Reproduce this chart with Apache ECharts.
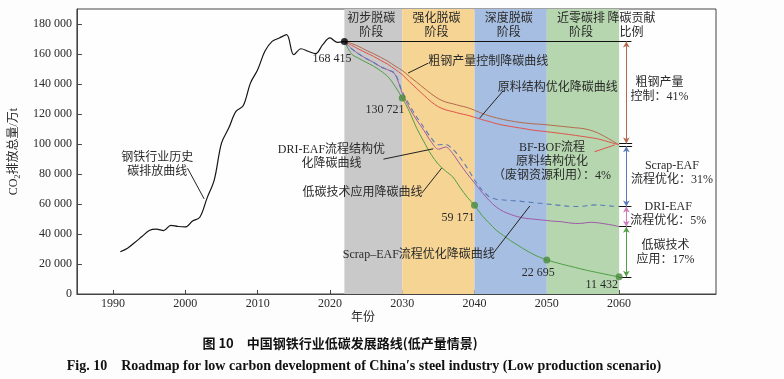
<!DOCTYPE html>
<html><head><meta charset="utf-8">
<script src="https://cdn.jsdelivr.net/npm/echarts@6/dist/echarts.min.js"></script>
<style>html,body{margin:0;padding:0;background:#fdfdfd}#c{width:784px;height:379px}</style>
</head><body><div id="c"></div>
<script>
// ---------- data ----------
const histYears  = [1991,1992,1993,1994,1995,1996,1997,1998,1999,2000,2001,2002,2003,2004,2005,2006,2007,2008,2009,2010,2011,2012,2013,2014,2015,2016,2017,2018,2019,2020,2021,2022];
const histValues = [28200,30500,34300,38300,42300,43200,42300,45800,45000,44700,48700,51200,63900,76100,100600,110600,121700,125500,140600,149500,161800,168400,170700,172900,159500,163500,161800,160200,166200,170700,167800,168415];

const projYears = [2022,2023,2024,2025,2026,2027,2028,2029,2030,2031,2032,2033,2034,2035,2036,2037,2038,2039,2040,2041,2042,2043,2044,2045,2046,2047,2048,2049,2050,2051,2052,2053,2054,2055,2056,2057,2058,2059,2060];
// 粗钢产量控制降碳曲线
const cutValues   = [168415,167000,165000,162500,160300,157800,155200,152000,149000,145000,141200,137300,133500,130200,128000,126800,125500,124300,122500,120500,118800,117500,116300,115400,114600,114000,113500,113200,112800,112300,111800,111300,110800,110300,109200,107500,105000,102300,99400];
// 原料结构优化降碳曲线
const rawValues   = [168415,165800,163200,160800,158500,155800,153200,149800,146300,141500,137000,132500,128200,124800,122800,121600,120300,119200,117800,116300,115000,113600,112500,111700,110900,110100,109300,108700,108200,107600,107000,106400,105700,105000,104300,103500,102200,100800,99400];
// Scrap-EAF流程优化降碳曲线 (dashed)
const scrapValues = [168415,163500,160000,157000,154500,151500,149500,147000,135000,126000,118000,111000,104000,99500,99800,96500,91000,84000,76000,69500,65000,63200,62700,62300,62000,61500,61000,60500,60000,59500,59000,58500,58300,58500,59200,59400,59000,58600,58300];
// DRI-EAF流程结构优化降碳曲线
const driValues   = [168415,163500,160000,157000,154500,151500,149500,146500,134000,124000,116000,109000,101500,96500,98000,93500,86500,80000,74000,68000,62500,58000,55000,53000,51500,50500,50000,49500,49000,48500,48200,47500,47000,47200,47800,47500,46800,46000,44900];
// 低碳技术应用降碳曲线
const lowcValues  = [168415,160000,157000,154500,152000,148800,145000,138500,130721,121500,110500,101500,93000,86500,82000,78000,71000,64500,59171,52500,47500,42500,39000,35500,32500,29500,26800,24500,22695,21300,20000,18800,17600,16400,15300,14300,13300,12300,11432];

const milestoneYears  = [2030,2040,2050,2060];
const milestoneValues = [130721,59171,22695,11432];

const xTicks = [1990,2000,2010,2020,2030,2040,2050,2060];
const yTicks = [0,20000,40000,60000,80000,100000,120000,140000,160000,180000];

const stageNames  = ['初步脱碳\n阶段','强化脱碳\n阶段','深度脱碳\n阶段','近零碳排\n阶段'];
const stageStarts = [2022,2030,2040,2050];
const stageEnds   = [2030,2040,2050,2060];
const stageColors = ['#c9c9c9','#f6d493','#a6bee1','#b5d6ae'];

const shareTexts = ['粗钢产量\n控制：41%','Scrap-EAF\n流程优化：31%','DRI-EAF\n流程优化：5%','低碳技术\n应用：17%'];

// ---------- style / layout ----------
const SERIF = "'Liberation Serif','Noto Sans CJK SC',serif";
const TXT = '#2a2a2a';
const C = {hist:'#151515', cut:'#b36a4c', raw:'#e0534b', dri:'#a05aa8', scrap:'#5a7ab6', lowc:'#4f9e45', dot:'#4a8a3c'};

const zip = (xs, ys) => xs.map((x, i) => [x, ys[i]]);
const last = a => a[a.length - 1];

const top0 = last(histValues), cutEnd = last(cutValues), scrapEnd = last(scrapValues), driEnd = last(driValues), lowEnd = last(lowcValues);

// annotation text anchors (data coordinates)
const annotations = [
  ['168 415',[2020.3,156600]],
  ['130 721',[2027.6,122800]],
  ['59 171',[2037.7,50500]],
  ['22 695',[2048.8,13800]],
  ['11 432',[2057.6,6000]],
  ['钢铁行业历史\n碳排放曲线',[1996.1,86400]],
  ['DRI-EAF流程结构优\n化降碳曲线',[2020.2,91400]],
  ['低碳技术应用降碳曲线',[2024.5,67400]],
  ['Scrap–EAF流程优化降碳曲线',[2032.3,26000]],
  ['原料结构优化降碳曲线',[2051.5,137300]],
  ['粗钢产量控制降碳曲线',[2041.9,155000]],
  ['BF-BOF流程\n原料结构优化\n（废钢资源利用）：4%',[2050.7,88100]],
  ['降碳贡献\n比例',[2061.7,178600]],
  [shareTexts[0],[2065.6,136100]],
  [shareTexts[1],[2067.3,80700]],
  [shareTexts[2],[2066.8,53400]],
  [shareTexts[3],[2066.4,27200]]
];

// leader lines (data coordinates)
const leaders = [
  [[2000.3,83900],[2002.6,63400],'#222'],
  [[2033.6,153900],[2030.8,147300],'#222'],
  [[2044.0,135700],[2040.7,117200],'#222'],
  [[2027.4,89900],[2034.3,96800],'#222'],
  [[2032.7,67200],[2035.45,83900],'#222'],
  [[2042.6,27200],[2047.65,58700],'#222'],
  [[2056.6,94800],[2059.4,99400],C.raw]
];

const BX = 2061, TX0 = 2060, TX1 = 2061.7;
const plain = (a, b, color) => [{coord:a, lineStyle:{color, width:1, type:'solid'}}, {coord:b}];
const arrow = (a, b, color) => [{coord:a, symbol:'arrow', symbolSize:[5,6], lineStyle:{color, width:1, type:'solid'}, itemStyle:{color}}, {coord:b, symbol:'arrow', symbolSize:[5,6], itemStyle:{color}}];

const markLines = [
  plain([2022, top0],[TX1, top0],'#111'),
  plain([TX0, cutEnd+900],[TX1+0.1, cutEnd+900],'#111'),
  plain([TX0, cutEnd-900],[TX1+0.1, cutEnd-900],'#111'),
  plain([TX0, scrapEnd],[TX1, scrapEnd],'#111'),
  plain([TX0, driEnd],[TX1, driEnd],'#111'),
  plain([TX0, lowEnd],[TX1, lowEnd],'#111'),
  arrow([BX, top0],[BX, cutEnd+900], C.cut),
  arrow([BX, cutEnd-900],[BX, scrapEnd], C.scrap),
  arrow([BX, scrapEnd],[BX, driEnd], '#c97dbb'),
  arrow([BX, driEnd],[BX, lowEnd], C.lowc)
].concat(leaders.map(l => plain(l[0], l[1], l[2])));

const chart = echarts.init(document.getElementById('c'), null, {renderer:'canvas'});

const lineSeries = (name, ys, color, extra) => Object.assign({
  type:'line', name, data: zip(projYears, ys), symbol:'none', smooth:0.3, z:3,
  lineStyle:{color, width:1}, silent:true
}, extra || {});

chart.setOption({
  animation:false,
  backgroundColor:'#fdfdfd',
  textStyle:{fontFamily:SERIF},
  grid:{left:76, right:68, top:9, bottom:85, show:true, borderColor:'#444', borderWidth:1, backgroundColor:'#fefefe'},
  xAxis:{
    type:'value', min:1985, max:2073.4,
    axisLine:{lineStyle:{color:'#444', width:1}},
    axisTick:{inside:true, length:4, lineStyle:{color:'#444'}, customValues:xTicks},
    axisLabel:{customValues:xTicks, color:TXT, fontSize:12, fontFamily:SERIF, margin:4, formatter: v => String(v)},
    splitLine:{show:false}
  },
  yAxis:{
    type:'value', min:0, max:190000,
    name:'{a|CO}{s|2}{a|排放总量/万t}', nameLocation:'middle', nameRotate:90, nameGap:52,
    nameTextStyle:{rich:{a:{fontSize:12, color:TXT, fontFamily:SERIF, lineHeight:16}, s:{fontSize:8, color:TXT, fontFamily:SERIF, lineHeight:16, verticalAlign:'bottom'}}},
    axisLine:{show:true, lineStyle:{color:'#444', width:1}},
    axisTick:{show:true, inside:true, length:5, lineStyle:{color:'#444'}, customValues:yTicks},
    axisLabel:{customValues:yTicks, color:TXT, fontSize:12, fontFamily:SERIF, margin:5,
      formatter: v => v === 0 ? '0' : (Math.round(v/1000) + ' 000')},
    splitLine:{show:false}
  },
  series:[
    { type:'line', name:'bands', data:[], z:1, silent:true,
      markArea:{silent:true, data: stageNames.map((n,i) => [
        {name:n, xAxis:stageStarts[i], itemStyle:{color:stageColors[i]}},
        {xAxis:stageEnds[i]}
      ]),
      label:{show:true, position:'insideTop', distance:3, color:TXT, fontSize:12, lineHeight:14, fontFamily:SERIF, offset:[-2,0]}}
    },
    { type:'line', name:'历史', data: zip(histYears, histValues), symbol:'none', smooth:0.35, z:3, silent:true,
      lineStyle:{color:C.hist, width:1.2}},
    lineSeries('粗钢产量控制', cutValues, C.cut),
    lineSeries('原料结构优化', rawValues, C.raw),
    lineSeries('DRI-EAF', driValues, C.dri),
    lineSeries('Scrap-EAF', scrapValues, C.scrap, {lineStyle:{color:C.scrap, width:1.1, type:[5,4]}, z:4}),
    lineSeries('低碳技术', lowcValues, C.lowc),
    { type:'line', name:'annot', data:[], z:6, silent:true,
      markLine:{silent:true, symbol:['none','none'], label:{show:false}, emphasis:{disabled:true}, data: markLines, animation:false},
      markPoint:{silent:true, symbol:'circle', symbolSize:1, itemStyle:{color:'rgba(0,0,0,0)'},
        label:{show:true, position:'inside', formatter:'{b}', color:TXT, fontSize:12, lineHeight:14, fontFamily:SERIF},
        data: annotations.map(a => ({name:a[0], coord:a[1]}))}
    },
    { type:'scatter', name:'start', data:[[last(histYears), top0]], symbolSize:7, z:7, silent:true, itemStyle:{color:'#000'}},
    { type:'scatter', name:'milestones', data: zip(milestoneYears, milestoneValues), symbolSize:7, z:7, silent:true, itemStyle:{color:C.dot}}
  ],
  graphic:[
    {type:'text', x:363, y:316, style:{text:'年份', fill:TXT, font:"12px 'Noto Sans CJK SC'", textAlign:'center', textVerticalAlign:'middle'}},
    {type:'text', x:340, y:343, style:{text:'图 10　中国钢铁行业低碳发展路线(低产量情景)', fill:'#111', font:"bold 13px 'Noto Sans CJK SC'", textAlign:'center', textVerticalAlign:'middle'}},
    {type:'text', x:364, y:366, style:{text:'Fig. 10　Roadmap for low carbon development of China′s steel industry (Low production scenario)', fill:'#111', font:"bold 14px 'Liberation Serif'", textAlign:'center', textVerticalAlign:'middle'}}
  ]
});
</script></body></html>
